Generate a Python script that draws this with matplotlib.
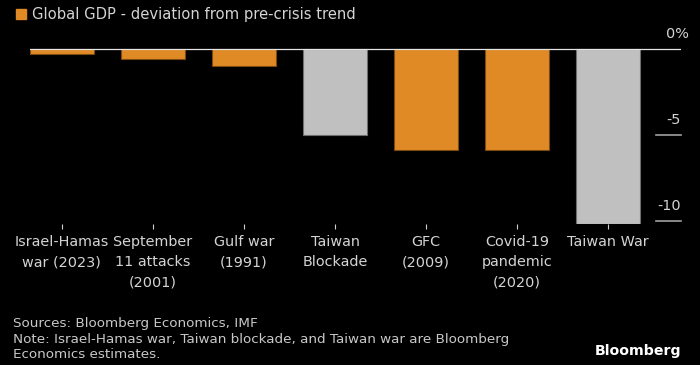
import matplotlib.pyplot as plt
from matplotlib.patches import Rectangle

# data
labels = ["Israel-Hamas\nwar (2023)", "September\n11 attacks\n(2001)", "Gulf war\n(1991)",
          "Taiwan\nBlockade", "GFC\n(2009)", "Covid-19\npandemic\n(2020)", "Taiwan War"]
values = [-0.3, -0.6, -1.0, -5.0, -5.9, -5.9, -10.2]
estimate = [False, False, False, True, False, False, True]
yticks = [0, -5, -10]
ytick_labels = ["0%", "-5", "-10"]

orange = '#E08A25'
orange_edge = '#7a4a12'
grey = '#C0C0C0'
grey_edge = '#6e6e6e'
text_col = '#d4d4d4'

plt.rcParams['font.family'] = ['DejaVu Sans']

W, H = 700, 365
fig = plt.figure(figsize=(W / 100, H / 100), dpi=100, facecolor='black')

# axes in pixel coords: x 30..681, y 25..224
left, right, top, bottom = 30, 681, 25, 224.1
ax = fig.add_axes([left / W, 1 - bottom / H, (right - left) / W, (bottom - top) / H])
ax.set_facecolor('black')

x = range(len(values))
colors = [grey if e else orange for e in estimate]
edges = [grey_edge if e else orange_edge for e in estimate]
ax.bar(x, values, width=0.7, color=colors, edgecolor=edges, linewidth=0.8, zorder=2)

ax.set_xlim(-0.35, 6.80)
ax.set_ylim(-10.2, (49 - top) / 17.17)

ax.axhline(0, color='#e6e6e6', linewidth=0.9, zorder=3)
for v, lab in zip(yticks, ytick_labels):
    if v != 0:
        ax.plot([6.53, 6.80], [v, v], color='#a0a0a0', linewidth=1.2, clip_on=False)
    xr = 6.80 + (8 / 91 if lab.endswith('%') else 0)
    ax.text(xr, v + 0.85, lab, ha='right', va='center', color=text_col, fontsize=10.4,
            clip_on=False)

for s in ax.spines.values():
    s.set_visible(False)
ax.set_yticks([])
ax.set_xticks(list(x))
ax.set_xticklabels(labels, color=text_col, fontsize=10.4, linespacing=1.6)
ax.tick_params(axis='x', colors='#d0d0d0', length=3.5, width=0.8, pad=4)
for t in ax.get_xticklabels():
    t.set_color(text_col)

# title with legend square
fig.patches.append(Rectangle((16 / W, 1 - 19 / H), 10 / W, 10 / H, transform=fig.transFigure,
                             color=orange, figure=fig))
fig.text(32 / W, 1 - 14 / H, "Global GDP - deviation from pre-crisis trend", ha='left', va='center',
         color=text_col, fontsize=10.6)

fig.text(13 / W, 1 - 339 / H,
         "Sources: Bloomberg Economics, IMF\nNote: Israel-Hamas war, Taiwan blockade, and Taiwan war are Bloomberg\nEconomics estimates.",
         ha='left', va='center', color='#c8c8c8', fontsize=9.7, linespacing=1.27)
fig.text(681 / W, 1 - 351 / H, "Bloomberg", ha='right', va='center', color='white',
         fontsize=10.2, fontweight='bold')

fig.savefig('out.png', dpi=100, facecolor='black')
